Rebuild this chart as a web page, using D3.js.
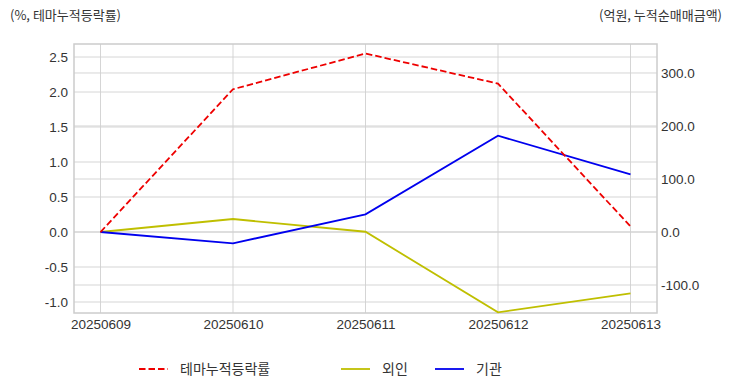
<!DOCTYPE html>
<html>
<head>
<meta charset="utf-8">
<script src="https://cdn.jsdelivr.net/npm/d3@7"></script>
<style>
  body { margin: 0; background: #fff; }
  svg text { font-family: "Liberation Sans", Arial, "Noto Sans CJK KR", sans-serif; fill: #333; }
  .kr { font-family: "Noto Sans CJK KR", "Noto Sans", sans-serif; }
</style>
</head>
<body>
<div id="wrapper"></div>
<script>
const dates = ["20250609", "20250610", "20250611", "20250612", "20250613"];
const themeReturn = [0.0, 2.04, 2.55, 2.12, 0.08];     // 테마누적등락률 (%)
const foreign = [0.0, 24.5, 0.5, -151.5, -115.7];      // 외인 (억원)
const institution = [0.0, -21.3, 33.4, 181.7, 108.9];  // 기관 (억원)
const leftTicks = [-1.0, -0.5, 0.0, 0.5, 1.0, 1.5, 2.0, 2.5];
const rightTicks = [-100, 0, 100, 200, 300];

function draw() {
    const dimension = {
        width: 732,
        height: 392,
        margin: { top: 44, right: 75, bottom: 79, left: 74 },
    };
    dimension.boundedWidth = dimension.width - dimension.margin.left - dimension.margin.right;
    dimension.boundedHeight = dimension.height - dimension.margin.top - dimension.margin.bottom;

    const wrapper = d3.select("#wrapper")
        .append("svg")
        .attr("width", dimension.width)
        .attr("height", dimension.height);

    const bounds = wrapper.append("g")
        .attr("transform", `translate(${dimension.margin.left},${dimension.margin.top})`);

    const xScaler = d3.scaleLinear()
        .domain([-0.2, dates.length - 1 + 0.2])
        .range([0, dimension.boundedWidth]);

    const yLeft = d3.scaleLinear()
        .domain([-1.157, 2.686])
        .range([dimension.boundedHeight, 0]);

    const yRight = d3.scaleLinear()
        .domain([-152.8, 354.7])
        .range([dimension.boundedHeight, 0]);

    // grid lines
    const grid = bounds.append("g");
    grid.selectAll(".gl").data(leftTicks).join("line")
        .attr("x1", 0).attr("x2", dimension.boundedWidth)
        .attr("y1", d => yLeft(d)).attr("y2", d => yLeft(d))
        .attr("stroke", "#d0d0d0").attr("stroke-width", 0.9);
    grid.selectAll(".gr").data(rightTicks).join("line")
        .attr("x1", 0).attr("x2", dimension.boundedWidth)
        .attr("y1", d => yRight(d)).attr("y2", d => yRight(d))
        .attr("stroke", "#d0d0d0").attr("stroke-width", 0.9);
    grid.selectAll(".gx").data(dates).join("line")
        .attr("x1", (d, i) => xScaler(i)).attr("x2", (d, i) => xScaler(i))
        .attr("y1", 0).attr("y2", dimension.boundedHeight)
        .attr("stroke", "#d0d0d0").attr("stroke-width", 0.9);

    // frame
    bounds.append("rect")
        .attr("width", dimension.boundedWidth)
        .attr("height", dimension.boundedHeight)
        .attr("fill", "none")
        .attr("stroke", "#cccccc")
        .attr("stroke-width", 1.5);

    // axes
    const xAxis = bounds.append("g")
        .attr("transform", `translate(0,${dimension.boundedHeight})`)
        .call(d3.axisBottom(xScaler).tickValues(d3.range(dates.length)).tickFormat(i => dates[i]).tickSize(0).tickPadding(6));
    const yAxisL = bounds.append("g")
        .call(d3.axisLeft(yLeft).tickValues(leftTicks).tickFormat(d3.format(".1f")).tickSize(0).tickPadding(6));
    const yAxisR = bounds.append("g")
        .attr("transform", `translate(${dimension.boundedWidth},0)`)
        .call(d3.axisRight(yRight).tickValues(rightTicks).tickFormat(d3.format(".1f")).tickSize(0).tickPadding(4));
    [xAxis, yAxisL, yAxisR].forEach(a => {
        a.select(".domain").remove();
        a.selectAll("text").attr("font-size", "13.5px").style("fill", "#333")
            .style("font-family", "'Liberation Sans', Arial, sans-serif");
    });
    yAxisL.selectAll("text").text(d => d3.format(".1f")(d).replace("−", "-"));
    yAxisR.selectAll("text").text(d => d3.format(".1f")(d).replace("−", "-"));

    // lines
    const lineL = d3.line().x((d, i) => xScaler(i)).y(d => yLeft(d));
    const lineR = d3.line().x((d, i) => xScaler(i)).y(d => yRight(d));

    bounds.append("path").datum(foreign).attr("d", lineR)
        .attr("fill", "none").attr("stroke", "#bfbf00").attr("stroke-width", 1.8);
    bounds.append("path").datum(institution).attr("d", lineR)
        .attr("fill", "none").attr("stroke", "#0000ee").attr("stroke-width", 1.8);
    bounds.append("path").datum(themeReturn).attr("d", lineL)
        .attr("fill", "none").attr("stroke", "#ee0000").attr("stroke-width", 1.8)
        .attr("stroke-dasharray", "6.5 3");

    // axis titles
    wrapper.append("text").attr("class", "kr")
        .attr("x", 10).attr("y", 20)
        .attr("font-size", "13px")
        .text("(%, 테마누적등락률)");
    wrapper.append("text").attr("class", "kr")
        .attr("x", 722).attr("y", 20)
        .attr("text-anchor", "end")
        .attr("font-size", "13px")
        .text("(억원, 누적순매매금액)");

    // legend
    const legendItems = [
        { name: "테마누적등락률", color: "#ee0000", dash: "6.5 3", x: 139 },
        { name: "외인", color: "#bfbf00", dash: null, x: 341 },
        { name: "기관", color: "#0000ee", dash: null, x: 435 },
    ];
    const legend = wrapper.append("g").attr("transform", "translate(0,369)");
    const li = legend.selectAll("g").data(legendItems).join("g")
        .attr("transform", d => `translate(${d.x},0)`);
    li.append("line")
        .attr("x1", 0).attr("x2", 29).attr("y1", 0).attr("y2", 0)
        .attr("stroke", d => d.color).attr("stroke-width", 1.8)
        .attr("stroke-dasharray", d => d.dash);
    li.append("text").attr("class", "kr")
        .attr("x", 41).attr("y", 5)
        .attr("font-size", "14px")
        .text(d => d.name);

    return wrapper;
}
draw();
</script>
</body>
</html>
